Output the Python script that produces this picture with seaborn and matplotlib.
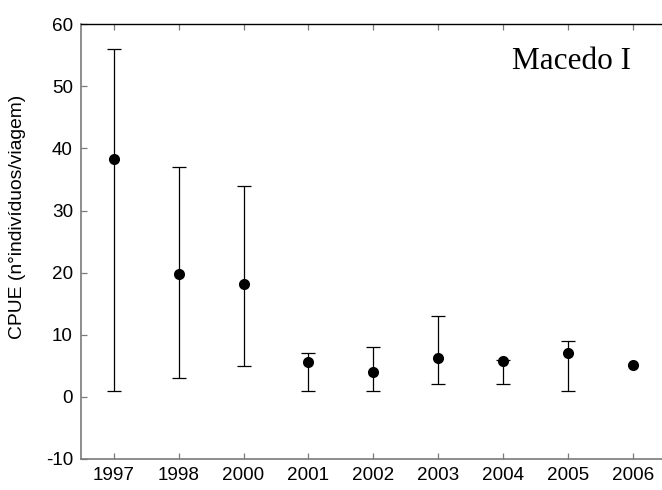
import numpy as np
import pandas as pd
import matplotlib
matplotlib.use("Agg")
import matplotlib.pyplot as plt
import seaborn as sns

# CPUE per year: mean with lower/upper limits (2006 has no range)
years = ["1997", "1998", "2000", "2001", "2002", "2003", "2004", "2005", "2006"]
cpue_mean = [38.3, 19.8, 18.1, 5.6, 4.0, 6.2, 5.7, 7.0, 5.2]
cpue_low = [1.0, 3.0, 5.0, 1.0, 1.0, 2.0, 2.0, 1.0, np.nan]
cpue_high = [56.0, 37.0, 34.0, 7.0, 8.0, 13.0, 6.0, 9.0, np.nan]
yticks = [-10, 0, 10, 20, 30, 40, 50, 60]

df = pd.DataFrame({"ano": years, "cpue": cpue_mean,
                   "low": cpue_low, "high": cpue_high})

sns.set_theme(style="white")
plt.rcParams["font.family"] = ["Liberation Sans", "DejaVu Sans"]

fig = plt.figure(figsize=(6.62, 4.90), dpi=100)
ax = fig.add_axes([0.1228, 0.0633, 0.8772, 0.8871])

# whiskers for the years that have a range
rng = df.dropna(subset=["low", "high"])
ax.errorbar(rng["ano"], rng["cpue"],
            yerr=[rng["cpue"] - rng["low"], rng["high"] - rng["cpue"]],
            fmt="none", ecolor="black", elinewidth=0.9, capsize=4.7,
            capthick=0.9, zorder=2)

sns.scatterplot(data=df, x="ano", y="cpue", ax=ax, color="black",
                s=64, edgecolor="black", linewidth=0, zorder=3, legend=False)

ax.set_xlim(-0.5, 8.45)
ax.set_ylim(-10, 60)
ax.set_yticks(yticks)
ax.set_yticklabels([str(v) for v in yticks])
ax.set_xlabel("")
ax.set_ylabel("")

for side in ["left", "bottom"]:
    ax.spines[side].set_color("#7a7a7a")
    ax.spines[side].set_linewidth(1.2)
ax.spines["top"].set_color("black")
ax.spines["top"].set_linewidth(1.0)
ax.spines["right"].set_visible(False)

ax.tick_params(axis="y", direction="in", length=4, width=0.9,
               color="#7a7a7a", labelsize=13.6, pad=6, left=True, right=False)
ax.tick_params(axis="x", direction="in", length=4, width=0.9,
               color="#7a7a7a", labelsize=13.6, pad=5.5, bottom=True, top=True)

for lab in ax.get_xticklabels() + ax.get_yticklabels():
    lab.set_color("black")

ax.text(7.05, 52.8, "Macedo I", family="Liberation Serif", fontsize=22.5,
        ha="center", va="baseline", color="black")

fig.text(18 / 662, 1 - 217 / 490, "CPUE (n°indivíduos/viagem)",
         rotation=90, ha="center", va="center", fontsize=13.9, color="black")

fig.savefig("out.png", dpi=100, facecolor="white")
